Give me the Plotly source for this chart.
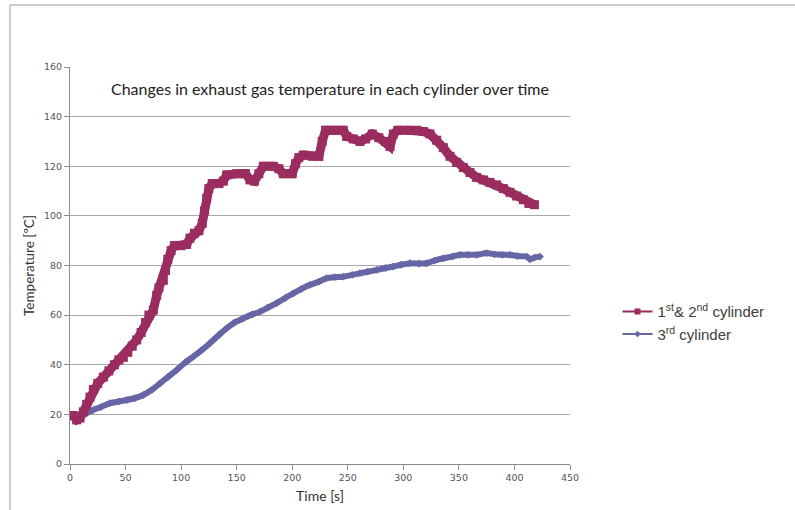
import plotly.graph_objects as go

# ---- data ----
t_red = [0, 3, 6, 9, 12, 15, 18, 21, 25, 30, 35, 40, 44, 48, 52, 56, 60, 64, 68, 71, 75, 78, 80, 84,
         86, 88, 91, 94, 100, 105, 108, 112, 116, 119, 121, 123, 125, 128, 134, 138, 141, 150, 158,
         162, 166, 170, 174, 183, 188, 192, 200, 203, 206, 210, 218, 224, 227, 230, 238, 246, 249,
         255, 261, 266, 272, 278, 284, 288, 291, 295, 305, 312, 318, 324, 330, 336, 342, 348, 354,
         360, 366, 372, 378, 384, 390, 396, 402, 408, 413, 418]
temp_red = [19.5, 19.5, 17.8, 18.5, 21, 24, 27, 30, 32.5, 35, 37.5, 40, 42, 43, 45, 47.5, 50, 53, 57,
            60, 62, 68, 71, 74, 78, 82.5, 86, 88, 88, 88.5, 91, 93, 94, 97, 102, 107, 111, 113, 113,
            114, 116.5, 117, 117, 114.5, 114, 117, 120, 120, 119, 117, 117, 121, 123.5, 124.5, 124,
            124, 130, 134.5, 134.5, 134.5, 132, 131, 130, 131, 133, 131.5, 130, 128, 133, 134.5,
            134.5, 134.5, 134, 133, 130.5, 127.5, 124, 121.5, 119.5, 117.5, 115.5, 114.5, 113.5,
            112.5, 111, 109.5, 108, 106.5, 105, 104.5]

t_blue = [5, 10, 15, 21, 28, 36, 44, 51, 58, 66, 74, 81, 88, 96, 104, 111, 118, 126, 134, 141, 148,
          156, 164, 171, 178, 186, 194, 201, 208, 216, 224, 231, 238, 246, 254, 261, 268, 276, 284,
          291, 298, 306, 314, 321, 328, 336, 344, 351, 358, 366, 375, 382, 389, 396, 403, 411, 414,
          418, 423]
temp_blue = [19, 19.5, 20.5, 21.8, 23, 24.5, 25.2, 25.8, 26.5, 27.8, 30, 32.5, 35, 37.9, 41, 43.3,
             45.7, 48.7, 52, 54.7, 57, 58.7, 60.3, 61.4, 63, 64.8, 67, 68.8, 70.5, 72.2, 73.5, 74.9,
             75.3, 75.5, 76.2, 76.9, 77.5, 78.2, 79, 79.6, 80.3, 80.9, 80.8, 80.9, 82, 82.9, 83.6,
             84.3, 84.3, 84.3, 85, 84.5, 84.3, 84.3, 83.8, 83.6, 82.5, 83.2, 83.6]

name_red = "1<sup>st</sup>& 2<sup>nd</sup> cylinder"
name_blue = "3<sup>rd</sup> cylinder"
title_text = "Changes in exhaust gas temperature in each cylinder over time"
x_ticks = [0, 50, 100, 150, 200, 250, 300, 350, 400, 450]
y_ticks = [0, 20, 40, 60, 80, 100, 120, 140, 160]

RED = "#9a2c60"
BLUE = "#6666a6"

fig = go.Figure()
fig.add_trace(go.Scatter(x=t_blue, y=temp_blue, mode="lines+markers", showlegend=False,
                         line=dict(color=BLUE, width=6, shape="spline", smoothing=0.4),
                         marker=dict(symbol="diamond", size=6, color=BLUE)))
fig.add_trace(go.Scatter(x=t_red, y=temp_red, mode="lines+markers", showlegend=False,
                         line=dict(color=RED, width=9),
                         marker=dict(symbol="square", size=9, color=RED)))
# legend entries
fig.add_trace(go.Scatter(x=[None], y=[None], mode="lines+markers", name=name_red,
                         line=dict(color=RED, width=2), marker=dict(symbol="square", size=6, color=RED)))
fig.add_trace(go.Scatter(x=[None], y=[None], mode="lines+markers", name=name_blue,
                         line=dict(color=BLUE, width=2), marker=dict(symbol="diamond", size=5, color=BLUE)))

axis_common = dict(showline=True, linecolor="#8c8c8c", linewidth=1, ticks="outside",
                   ticklen=5, tickcolor="#8c8c8c", zeroline=False, automargin=False,
                   tickfont=dict(family="DejaVu Sans", size=9.5, color="#555555"))

fig.update_xaxes(range=[0, 450], tickvals=x_ticks, showgrid=False,
                 title=dict(text="Time [s]", font=dict(family="Lato", size=14, color="#333333"),
                            standoff=8), **axis_common)
fig.update_yaxes(range=[0, 160], tickvals=y_ticks, showgrid=True, gridcolor="#a8a8a8", gridwidth=1,
                 title=dict(text="Temperature [ºC]", font=dict(family="Lato", size=13.5, color="#333333"),
                            standoff=6), **axis_common)

fig.add_annotation(text=title_text, xref="paper", yref="paper", x=0.52, y=0.947,
                   showarrow=False, font=dict(family="Lato", size=16, color="#222222"),
                   xanchor="center", yanchor="middle")

# outer frame lines (top and left)
fig.add_shape(type="line", xref="paper", yref="paper", x0=-0.12, x1=1.5, y0=1.156, y1=1.156,
              line=dict(color="#bdbdbd", width=1.5))
fig.add_shape(type="line", xref="paper", yref="paper", x0=-0.12, x1=-0.12, y0=1.156, y1=-0.2,
              line=dict(color="#bdbdbd", width=1.5))

fig.update_layout(
    width=795, height=510,
    margin=dict(l=70, r=225, t=67, b=46, autoexpand=False),
    paper_bgcolor="white", plot_bgcolor="white",
    legend=dict(x=1.095, y=0.425, xanchor="left", yanchor="top", bgcolor="rgba(0,0,0,0)",
                font=dict(family="Liberation Sans", size=15, color="#404040"),
                itemwidth=30, tracegroupgap=0),
    font=dict(family="Lato"),
)

fig.write_html("out.html")
